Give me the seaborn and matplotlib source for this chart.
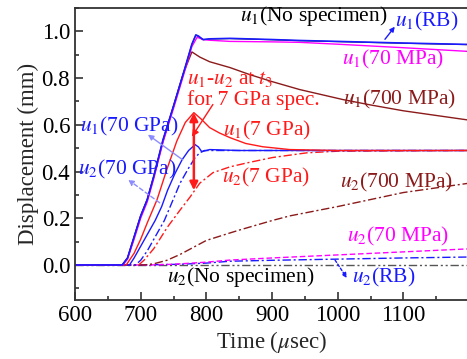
import numpy as np
import pandas as pd
import matplotlib
matplotlib.use("Agg")
import matplotlib.pyplot as plt
import seaborn as sns

# ---------------- data (time in usec, displacement in mm) ----------------
t_u1_nospec = [600, 672, 680, 690, 700, 710, 720, 734, 750, 765, 778, 784, 788, 795, 805, 836, 900, 942, 1000, 1100, 1200]
v_u1_nospec = [0, 0, 0.03, 0.12, 0.21, 0.28, 0.38, 0.536, 0.68, 0.82, 0.945, 0.983, 0.978, 0.964, 0.967, 0.969, 0.964, 0.960, 0.956, 0.949, 0.943]

t_u1_rb = [600, 672, 680, 690, 700, 710, 720, 734, 750, 765, 778, 784, 788, 795, 805, 836, 900, 942, 1000, 1100, 1200]
v_u1_rb = [0, 0, 0.03, 0.12, 0.21, 0.28, 0.38, 0.536, 0.68, 0.82, 0.945, 0.985, 0.98, 0.965, 0.968, 0.97, 0.965, 0.961, 0.957, 0.95, 0.944]

t_u1_70mpa = [600, 673, 680, 690, 700, 710, 720, 734, 750, 765, 778, 786, 795, 805, 836, 900, 942, 1000, 1100, 1200]
v_u1_70mpa = [0, 0, 0.025, 0.11, 0.20, 0.27, 0.37, 0.525, 0.67, 0.81, 0.935, 0.975, 0.965, 0.962, 0.957, 0.955, 0.953, 0.945, 0.93, 0.914]

t_u1_700mpa = [600, 672, 680, 690, 700, 710, 720, 734, 750, 765, 778, 790, 805, 836, 866, 900, 942, 1008, 1050, 1100, 1150, 1200]
v_u1_700mpa = [0, 0, 0.03, 0.12, 0.21, 0.28, 0.38, 0.53, 0.68, 0.82, 0.912, 0.89, 0.87, 0.845, 0.815, 0.785, 0.751, 0.708, 0.685, 0.66, 0.64, 0.62]

t_u1_7gpa = [600, 678, 690, 700, 710, 725, 740, 755, 768, 781, 792, 805, 820, 836, 860, 886, 927, 1000, 1200]
v_u1_7gpa = [0, 0, 0.05, 0.11, 0.18, 0.28, 0.41, 0.53, 0.61, 0.652, 0.625, 0.588, 0.565, 0.545, 0.52, 0.506, 0.494, 0.49, 0.49]

t_u1_70gpa = [600, 683, 690, 700, 710, 722, 732, 741, 752, 763, 773, 783, 788, 793, 800, 805, 850, 1000, 1200]
v_u1_70gpa = [0, 0, 0.03, 0.08, 0.13, 0.19, 0.25, 0.32, 0.39, 0.45, 0.49, 0.515, 0.505, 0.485, 0.49, 0.494, 0.49, 0.49, 0.49]

t_u2_70gpa = [600, 692, 700, 710, 720, 736, 748, 760, 772, 783, 790, 797, 805, 1200]
v_u2_70gpa = [0, 0, 0.02, 0.06, 0.11, 0.19, 0.27, 0.35, 0.41, 0.46, 0.48, 0.49, 0.49, 0.49]

t_u2_7gpa = [600, 697, 705, 720, 741, 760, 775, 790, 810, 836, 862, 901, 953, 1000, 1200]
v_u2_7gpa = [0, 0, 0.02, 0.07, 0.163, 0.235, 0.29, 0.35, 0.395, 0.42, 0.437, 0.46, 0.48, 0.487, 0.49]

t_u2_700mpa = [600, 705, 720, 740, 760, 780, 800, 836, 851, 900, 927, 1000, 1050, 1100, 1150, 1200]
v_u2_700mpa = [0, 0, 0.005, 0.02, 0.045, 0.075, 0.105, 0.137, 0.15, 0.19, 0.21, 0.25, 0.28, 0.31, 0.33, 0.35]

t_u2_70mpa = [600, 715, 750, 800, 836, 900, 1000, 1100, 1200]
v_u2_70mpa = [0, 0, 0.003, 0.012, 0.021, 0.03, 0.043, 0.056, 0.069]

t_u2_rb = [600, 700, 760, 800, 836, 900, 1000, 1100, 1200]
v_u2_rb = [0, 0, 0.003, 0.008, 0.016, 0.02, 0.025, 0.03, 0.034]

t_u2_nospec = [600, 1200]
v_u2_nospec = [0, 0]

x_ticks = [600, 700, 800, 900, 1000, 1100]
y_ticks = [0.0, 0.2, 0.4, 0.6, 0.8, 1.0]

# ---------------- style ----------------
sns.set_style("ticks")
plt.rcParams['font.family'] = ['Liberation Serif', 'DejaVu Serif']
plt.rcParams['mathtext.fontset'] = 'stix'

BLUE = '#1a1aff'
RED = '#ff1a1a'
MAG = '#ff00ff'
BROWN = '#8b1a1a'
LBLUE = '#8c8cff'

fig = plt.figure(figsize=(4.67, 3.59), dpi=100)
ax = fig.add_axes([75/467, 1-300/359, 394/467, 292/359])

def draw(t, v, color, ls='-', lw=1.0, z=2):
    df = pd.DataFrame({'t': t, 'v': v})
    sns.lineplot(data=df, x='t', y='v', ax=ax, color=color, linestyle=ls,
                 linewidth=lw, zorder=z, estimator=None, sort=False)

DASHDOT = (0, (6, 2, 1.5, 2))
DASHDOTDOT = (0, (6, 2, 1.5, 2, 1.5, 2))
DASHED = (0, (4, 2))

draw(t_u2_nospec, v_u2_nospec, '#555555', DASHDOTDOT, 1.0)
draw(t_u2_rb, v_u2_rb, BLUE, DASHDOT, 1.0)
draw(t_u2_70mpa, v_u2_70mpa, MAG, DASHED, 1.0)
draw(t_u2_700mpa, v_u2_700mpa, BROWN, DASHDOT, 1.0)
draw(t_u2_7gpa, v_u2_7gpa, RED, DASHDOT, 1.0)
draw(t_u2_70gpa, v_u2_70gpa, BLUE, DASHDOT, 1.0)
draw(t_u1_70gpa, v_u1_70gpa, BLUE, '-', 1.0)
draw(t_u1_7gpa, v_u1_7gpa, RED, '-', 1.0)
draw(t_u1_700mpa, v_u1_700mpa, BROWN, '-', 1.0)
draw(t_u1_nospec, v_u1_nospec, '#222222', '-', 0.8)
draw(t_u1_70mpa, v_u1_70mpa, MAG, '-', 1.0)
draw(t_u1_rb, v_u1_rb, BLUE, '-', 1.2)

ax.set_xlim(600, 1200)
ax.set_ylim(-0.15, 1.10)
ax.set_xticks(x_ticks)
ax.set_yticks(y_ticks)
ax.set_yticklabels([f"{v:.1f}" for v in y_ticks])
ax.xaxis.set_minor_locator(matplotlib.ticker.MultipleLocator(50))
ax.yaxis.set_minor_locator(matplotlib.ticker.MultipleLocator(0.1))
ax.tick_params(which='both', direction='in', labelsize=16.5, colors='#333333', labelcolor='black', width=1.2)
ax.tick_params(which='major', length=6)
ax.tick_params(which='minor', length=3)
for s in ax.spines.values():
    s.set_linewidth(1.3)
    s.set_color('#333333')
ax.set_xlabel(r'Time ($\mu$sec)', fontsize=16.5, labelpad=2)
ax.set_ylabel('Displacement (mm)', fontsize=16.5, labelpad=2)

FS = 15.5
def txt(x, y, s, c):
    ax.text(x, y, s, color=c, fontsize=FS, ha='left', va='center', zorder=5)

txt(851, 1.064, r'$u_1$(No specimen)', 'black')
txt(1087, 1.043, r'$u_1$(RB)', BLUE)
txt(1006, 0.88, r'$u_1$(70 MPa)', MAG)
txt(1008, 0.708, r'$u_1$(700 MPa)', BROWN)
txt(770, 0.794, r'$u_1$-$u_2$ at $t_3$', RED)
txt(770, 0.708, 'for 7 GPa spec.', RED)
txt(826, 0.575, r'$u_1$(7 GPa)', RED)
txt(824, 0.373, r'$u_2$(7 GPa)', RED)
txt(1003, 0.352, r'$u_2$(700 MPa)', BROWN)
txt(1014, 0.12, r'$u_2$(70 MPa)', MAG)
txt(1022, -0.052, r'$u_2$(RB)', BLUE)
txt(740, -0.052, r'$u_2$(No specimen)', 'black')
txt(608, 0.592, r'$u_1$(70 GPa)', BLUE)
txt(605, 0.408, r'$u_2$(70 GPa)', BLUE)

def arrow(x0, y0, x1, y1, c, ls='-', lw=1.0, style='-|>', ms=8):
    ax.annotate('', xy=(x1, y1), xytext=(x0, y0),
                arrowprops=dict(arrowstyle=style, color=c, lw=lw, linestyle=ls,
                                mutation_scale=ms, shrinkA=0, shrinkB=0), zorder=6)

arrow(781, 0.32, 781, 0.652, RED, '-', 1.8, '<|-|>', 12)
arrow(810, 0.687, 778, 0.549, RED, '-', 1.0, '-|>', 10)
arrow(1072, 0.966, 1087, 1.02, BLUE, '-', 1.0, '-|>', 7)
arrow(764, 0.45, 711, 0.558, LBLUE, '-', 1.0, '-|>', 8)
arrow(729, 0.266, 681, 0.365, LBLUE, (0, (3, 2)), 1.0, '-|>', 8)
arrow(996, 0.021, 1014, -0.056, BLUE, (0, (2, 1.5)), 1.0, '-|>', 7)

fig.savefig('out.png', dpi=100)
